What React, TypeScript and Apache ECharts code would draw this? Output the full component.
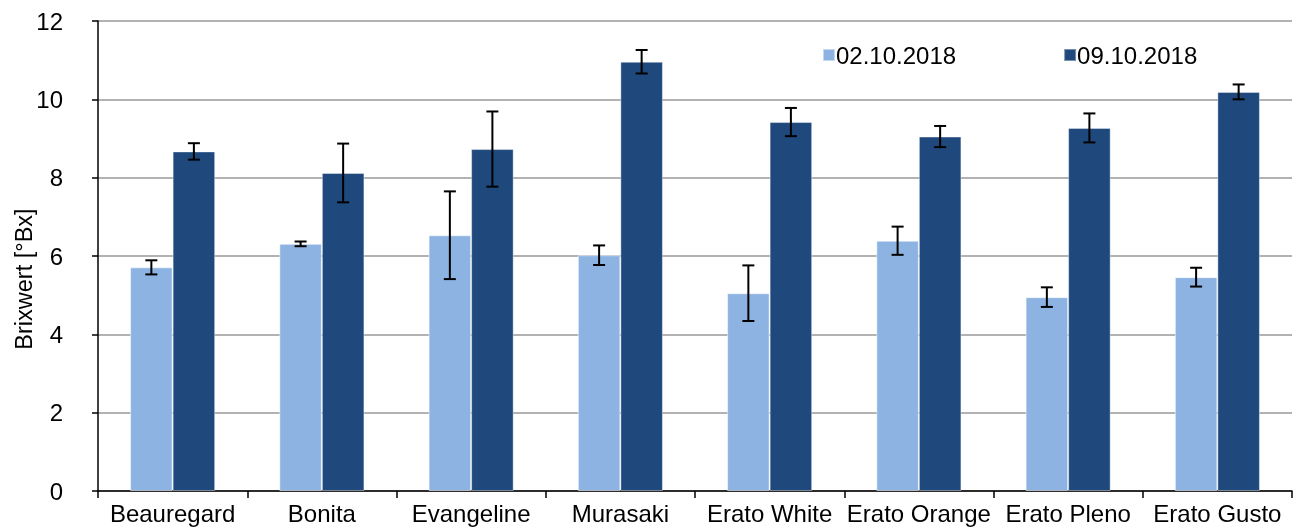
import React, { useEffect, useRef } from "react";
import * as echarts from "echarts";

const categories = ["Beauregard", "Bonita", "Evangeline", "Murasaki", "Erato White", "Erato Orange", "Erato Pleno", "Erato Gusto"];
const seriesNames = ["02.10.2018", "09.10.2018"];
const brix0210 = [5.71, 6.31, 6.53, 6.02, 5.05, 6.39, 4.95, 5.46];
const err0210 = [0.18, 0.06, 1.12, 0.25, 0.71, 0.36, 0.25, 0.24];
const brix0910 = [8.67, 8.12, 8.73, 10.96, 9.42, 9.05, 9.27, 10.19];
const err0910 = [0.21, 0.75, 0.96, 0.3, 0.36, 0.27, 0.37, 0.19];
const yTicks = { min: 0, max: 12, interval: 2 };

const FONT = "Arial, 'Liberation Sans', sans-serif";
const LIGHT = "#8DB3E2";
const DARK = "#1F497D";
const CAT_GAP = 0.43;

function errorSeries(name: string, vals: number[], errs: number[], side: number) {
  return {
    name: name + " err",
    type: "custom",
    z: 10,
    data: vals.map((v, i) => [i, v, errs[i]]),
    renderItem: (params: any, api: any) => {
      const i = api.value(0);
      const v = api.value(1);
      const e = api.value(2);
      const band = api.size([1, 0])[0];
      const barW = (band * (1 - CAT_GAP)) / 2;
      const center = api.coord([i, v]);
      const x = center[0] + side * barW / 2;
      const yHi = api.coord([i, v + e])[1];
      const yLo = api.coord([i, v - e])[1];
      const cap = 6;
      const style = { stroke: "#000", lineWidth: 2 };
      return {
        type: "group",
        children: [
          { type: "line", shape: { x1: x, y1: yHi, x2: x, y2: yLo }, style },
          { type: "line", shape: { x1: x - cap, y1: yHi, x2: x + cap, y2: yHi }, style },
          { type: "line", shape: { x1: x - cap, y1: yLo, x2: x + cap, y2: yLo }, style },
        ],
      };
    },
  };
}

export default function App() {
  const ref = useRef<HTMLDivElement>(null);
  useEffect(() => {
    if (!ref.current) return;
    const chart = echarts.init(ref.current, undefined, { renderer: "svg" });
    chart.setOption({
      animation: false,
      textStyle: { fontFamily: FONT },
      grid: { left: 98, top: 21, right: 8, bottom: 39, containLabel: false },
      legend: {
        data: seriesNames,
        left: 817,
        top: 38,
        itemWidth: 12,
        itemHeight: 12,
        itemGap: 107,
        icon: "rect",
        textStyle: { fontFamily: FONT, fontSize: 24, color: "#000", padding: [0, 0, 0, -4] },
      },
      xAxis: {
        type: "category",
        data: categories,
        axisLine: { lineStyle: { color: "#000", width: 1.5 } },
        axisTick: { show: true, alignWithLabel: false, interval: 0, length: 7, lineStyle: { color: "#000", width: 1.5 } },
        axisLabel: { interval: 0, fontFamily: FONT, fontSize: 24, color: "#000", margin: 10 },
        splitLine: { show: false },
      },
      yAxis: {
        type: "value",
        min: yTicks.min,
        max: yTicks.max,
        interval: yTicks.interval,
        axisLine: { show: true, lineStyle: { color: "#000", width: 1.5 } },
        axisTick: { show: true, length: 6, lineStyle: { color: "#000", width: 1.5 } },
        axisLabel: { fontFamily: FONT, fontSize: 24, color: "#000", margin: 35 },
        splitLine: { show: true, lineStyle: { color: "#999", width: 1.5 } },
      },
      graphic: [
        {
          type: "text",
          x: 24,
          y: 279,
          rotation: Math.PI / 2,
          style: {
            text: "Brixwert [°Bx]",
            fontFamily: FONT,
            fontSize: 23.5,
            fill: "#000",
            align: "center",
            verticalAlign: "middle",
          },
        },
      ],
      series: [
        {
          name: seriesNames[0],
          type: "bar",
          data: brix0210,
          barGap: "0%",
          barCategoryGap: "43%",
          itemStyle: { color: LIGHT, borderColor: "rgba(255,255,255,0.5)", borderWidth: 1 },
        },
        {
          name: seriesNames[1],
          type: "bar",
          data: brix0910,
          barGap: "0%",
          barCategoryGap: "43%",
          itemStyle: { color: DARK, borderColor: "rgba(255,255,255,0.4)", borderWidth: 1 },
        },
        errorSeries(seriesNames[0], brix0210, err0210, -1),
        errorSeries(seriesNames[1], brix0910, err0910, 1),
      ],
    });
    return () => chart.dispose();
  }, []);
  return <div ref={ref} style={{ position: "fixed", left: 0, top: 0, width: 1300, height: 530 }} />;
}
